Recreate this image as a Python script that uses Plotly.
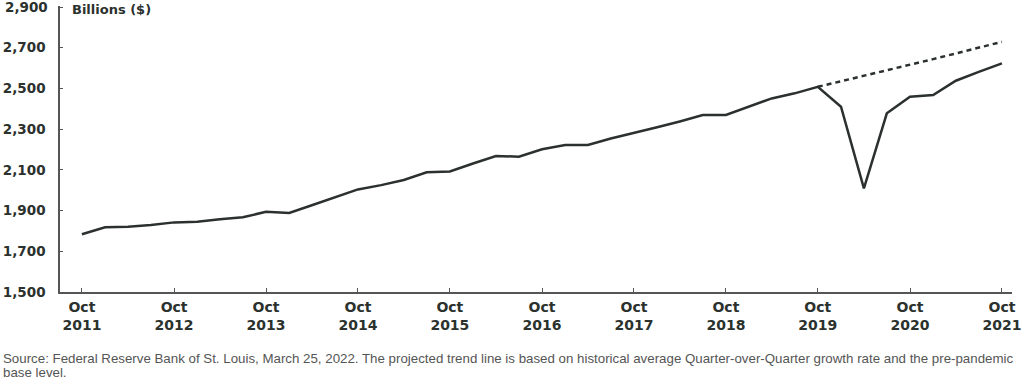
import pandas as pd
import plotly.graph_objects as go

# Quarterly observations, Oct 2011 .. Oct 2021 (billions of dollars)
start_quarter = "2011-10-01"
actual_values = [
    1784, 1818, 1821, 1829, 1842, 1845, 1857, 1867, 1894, 1888,
    1926, 1965, 2004, 2025, 2050, 2088, 2092, 2131, 2168, 2165,
    2201, 2222, 2222, 2254, 2280, 2309, 2338, 2369, 2370, 2411,
    2451, 2476, 2508, 2410, 2009, 2378, 2459, 2468, 2538, 2581,
    2623,
]
# Projected pre-pandemic trend, Oct 2019 .. Oct 2021
trend_start = "2019-10-01"
trend_values = [2508, 2535, 2561, 2589, 2616, 2644, 2672, 2700, 2729]

tick_dates = [f"{y}-10-01" for y in range(2011, 2022)]
tick_labels = [f"Oct<br>{y}" for y in range(2011, 2022)]
y_ticks = [1500, 1700, 1900, 2100, 2300, 2500, 2700, 2900]
y_tick_labels = ["1,500", "1,700", "1,900", "2,100", "2,300", "2,500", "2,700", "2,900"]

source_line1 = ("Source: Federal Reserve Bank of St. Louis, March 25, 2022. The projected trend line is based on "
                "historical average Quarter-over-Quarter growth rate and the pre-pandemic")
source_line2 = "base level."

actual_dates = pd.date_range(start_quarter, periods=len(actual_values), freq="QS")
trend_dates = pd.date_range(trend_start, periods=len(trend_values), freq="QS")

INK = "#2b312d"
YFONT = dict(family="DejaVu Sans", size=13.5, weight="bold", color=INK)

fig = go.Figure()
fig.add_trace(go.Scatter(
    x=trend_dates, y=trend_values, mode="lines",
    line=dict(color=INK, width=2.5, dash="5px,4px"),
    hoverinfo="skip", showlegend=False,
))
fig.add_trace(go.Scatter(
    x=actual_dates, y=actual_values, mode="lines",
    line=dict(color=INK, width=2.5),
    hoverinfo="skip", showlegend=False,
))

W, H = 1024, 387
L, R, T, B = 60, 12, 6, 95
plot_w = W - L - R
plot_h = H - T - B


def px_y(p):
    return (H - B - p) / plot_h


def px_x(p):
    return (p - L) / plot_w


# the top tick label sits at the very edge of the page, so draw it as text
shown_y_labels = y_tick_labels[:-1] + [""]

fig.update_layout(
    width=W, height=H,
    margin=dict(l=L, r=R, t=T, b=B, pad=0, autoexpand=False),
    paper_bgcolor="white", plot_bgcolor="white",
    font=dict(family="DejaVu Sans", color=INK),
    xaxis=dict(
        type="date",
        range=["2011-07-06", "2021-11-10"],
        tickvals=tick_dates, ticktext=tick_labels,
        tickfont=dict(family="DejaVu Sans", size=14, weight="bold", color=INK),
        ticks="inside", ticklen=4, tickcolor="#555", tickwidth=1,
        showline=True, linecolor="#555", linewidth=1.5,
        showgrid=False, zeroline=False,
        ticklabelstandoff=1,
    ),
    yaxis=dict(
        range=[1500, 2905],
        tickvals=y_ticks, ticktext=shown_y_labels,
        tickfont=YFONT,
        ticks="inside", ticklen=3, tickcolor="#555", tickwidth=1,
        showline=True, linecolor="#555", linewidth=1.5,
        showgrid=False, zeroline=False,
        ticklabelstandoff=10,
    ),
    annotations=[
        dict(text=y_tick_labels[-1], xref="paper", yref="y",
             x=px_x(50), y=y_ticks[-1],
             xanchor="right", yanchor="middle", showarrow=False,
             font=YFONT),
        dict(text="Billions ($)", xref="paper", yref="paper",
             x=px_x(70), y=px_y(10),
             xanchor="left", yanchor="middle", showarrow=False,
             font=dict(family="DejaVu Sans", size=13, weight="bold", color=INK)),
        dict(text=source_line1, xref="paper", yref="paper",
             x=px_x(1), y=px_y(358.5),
             xanchor="left", yanchor="middle", align="left", showarrow=False,
             font=dict(family="Liberation Sans", size=13.3, color="#555555")),
        dict(text=source_line2, xref="paper", yref="paper",
             x=px_x(1), y=px_y(372),
             xanchor="left", yanchor="middle", align="left", showarrow=False,
             font=dict(family="Liberation Sans", size=13.3, color="#555555")),
    ],
)

fig.write_html("out.html", config={"displayModeBar": False},
               post_script="document.body.style.margin='0';")
